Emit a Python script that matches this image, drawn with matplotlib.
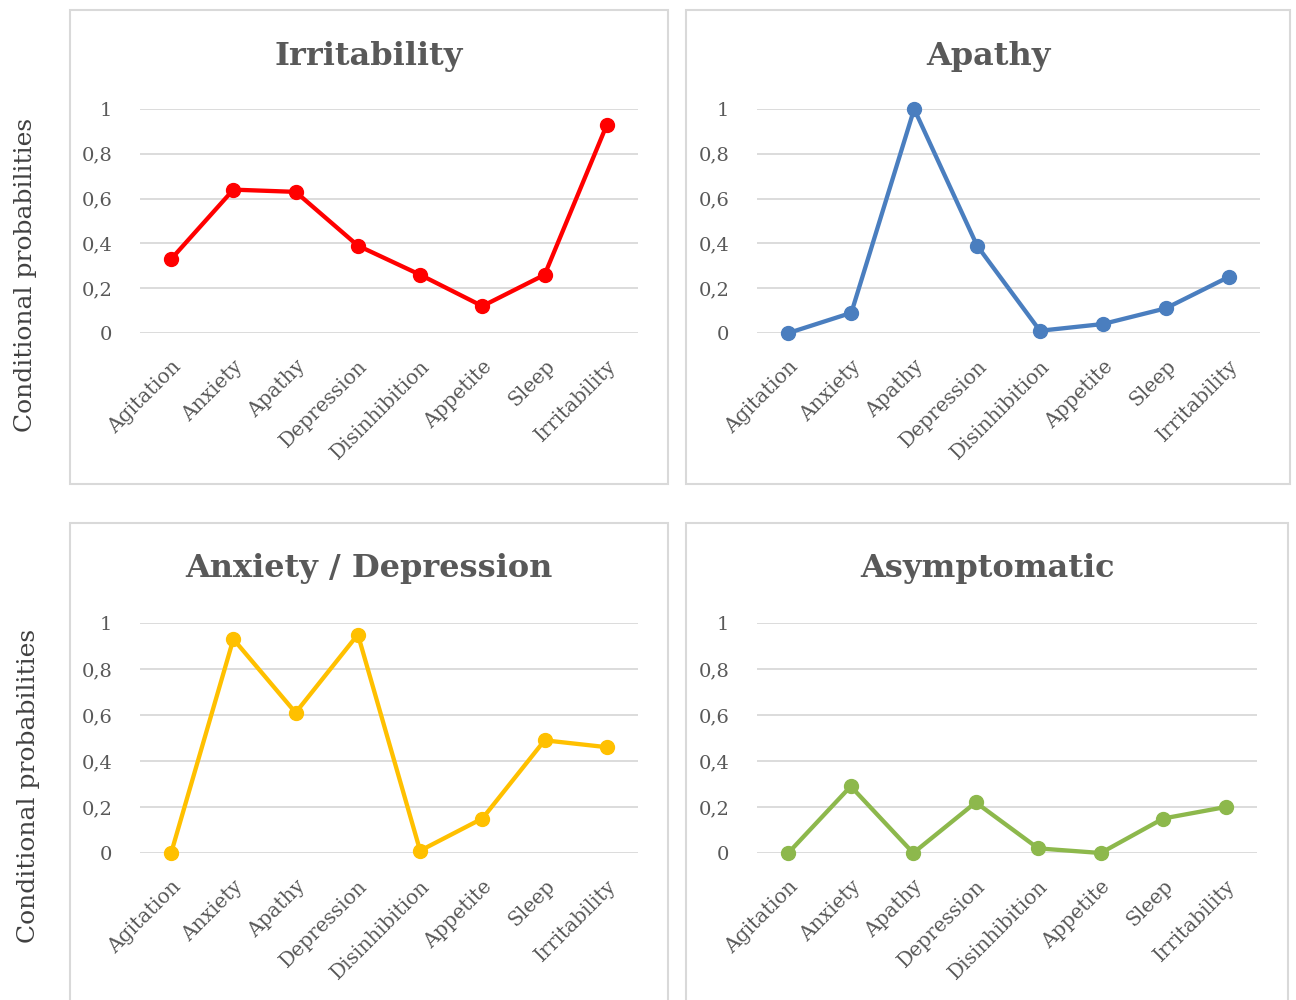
import matplotlib
matplotlib.use('Agg')
import matplotlib.pyplot as plt
from matplotlib.patches import Rectangle
from matplotlib.ticker import FuncFormatter

symptoms = ['Agitation', 'Anxiety', 'Apathy', 'Depression', 'Disinhibition',
            'Appetite', 'Sleep', 'Irritability']

irritability = [0.33, 0.64, 0.63, 0.39, 0.26, 0.12, 0.26, 0.93]
apathy = [0.0, 0.09, 1.0, 0.39, 0.01, 0.04, 0.11, 0.25]
anx_dep = [0.0, 0.93, 0.61, 0.95, 0.01, 0.15, 0.49, 0.46]
asymptomatic = [0.0, 0.29, 0.0, 0.22, 0.02, 0.0, 0.15, 0.20]

titles = ['Irritability', 'Apathy', 'Anxiety / Depression', 'Asymptomatic']
series = [irritability, apathy, anx_dep, asymptomatic]
colors = ['#FF0000', '#4A7EBF', '#FFC000', '#8DB84C']

W, H = 1296, 1000
fig = plt.figure(figsize=(W / 100, H / 100), dpi=100)

# panel frames (pixels: x0, y0, x1, y1)
boxes = [(70, 10, 668, 484), (686, 10, 1290, 484),
         (70, 523, 668, 1010), (686, 523, 1288, 1010)]
# plot areas (pixels: left, right, y at 0, y at 1)
areas = [(140, 638, 333, 109), (757, 1260, 333, 109),
         (140, 638, 853, 623), (757, 1257, 853, 623)]

fmt = FuncFormatter(lambda v, p: ('%g' % round(v, 1)).replace('.', ','))

for i in range(4):
    x0, y0, x1, y1 = boxes[i]
    fig.patches.append(Rectangle((x0 / W, 1 - y1 / H), (x1 - x0) / W, (y1 - y0) / H,
                                 transform=fig.transFigure, fill=False,
                                 edgecolor='#D9D9D9', linewidth=1.5))
    l, r, yb, yt = areas[i]
    ax = fig.add_axes([l / W, 1 - yb / H, (r - l) / W, (yb - yt) / H])
    ax.plot(range(len(symptoms)), series[i], color=colors[i], linewidth=3.1,
            marker='o', markersize=10, zorder=3, clip_on=False)
    ax.set_xlim(-0.5, len(symptoms) - 0.5)
    ax.set_ylim(0, 1)
    ax.set_yticks([0, 0.2, 0.4, 0.6, 0.8, 1])
    ax.yaxis.set_major_formatter(fmt)
    ax.grid(axis='y', color='#D9D9D9', linewidth=1.3)
    ax.set_axisbelow(True)
    for s in ax.spines.values():
        s.set_visible(False)
    ax.set_xticks(range(len(symptoms)))
    ax.set_xticklabels(symptoms, rotation=45, ha='right', va='top',
                       rotation_mode='anchor', family='DejaVu Serif',
                       fontsize=14.5, color='#595959')
    ax.tick_params(axis='x', length=0, pad=17)
    ax.tick_params(axis='y', length=0, pad=20, labelcolor='#595959')
    for t in ax.get_yticklabels():
        t.set_family('DejaVu Serif')
        t.set_fontsize(14)
    fig.text(((x0 + x1) / 2) / W, 1 - 56 / H if i < 2 else 1 - 569 / H, titles[i],
             ha='center', va='center', family='DejaVu Serif', fontweight='bold',
             fontsize=23, color='#595959')

fig.text(26 / W, 1 - 275 / H, 'Conditional probabilities', rotation=90,
         ha='center', va='center', family='DejaVu Serif', fontsize=18, color='#404040')
fig.text(29 / W, 1 - 786 / H, 'Conditional probabilities', rotation=90,
         ha='center', va='center', family='DejaVu Serif', fontsize=18, color='#404040')

fig.savefig('out.png', dpi=100)
